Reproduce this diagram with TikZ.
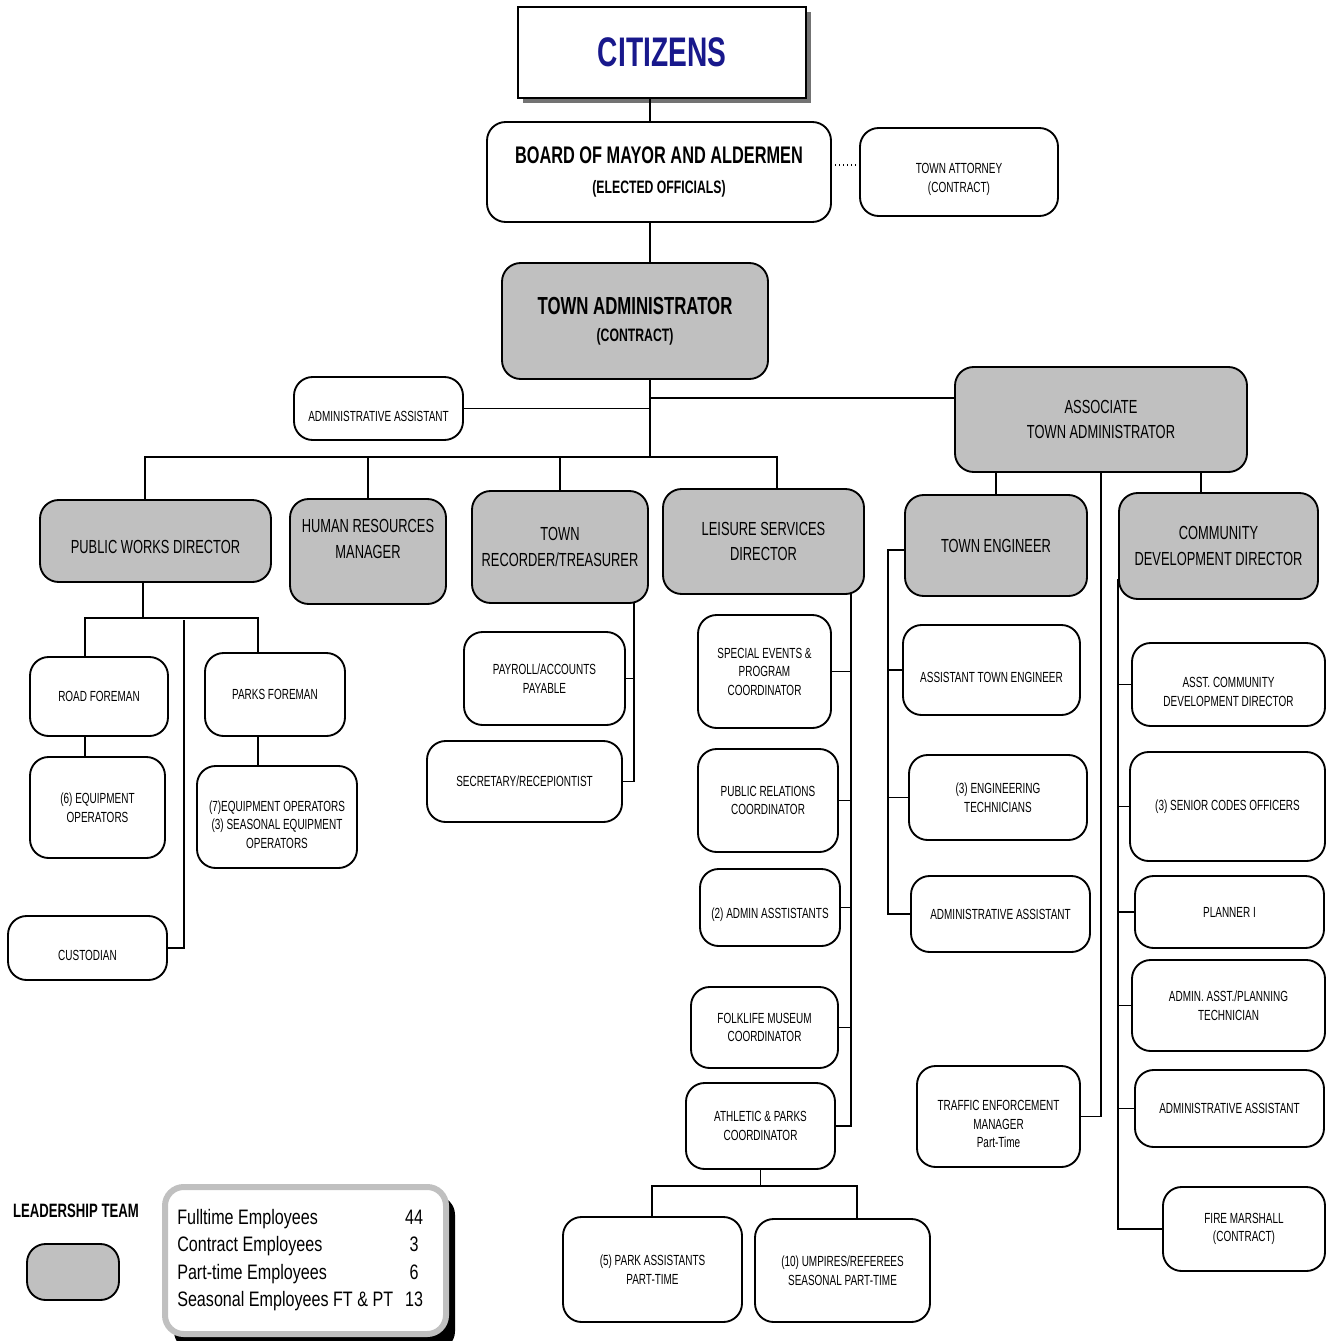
\documentclass[tikz,border=0pt]{standalone}
\usepackage{fontspec}
\setmainfont{Liberation Sans}[FakeStretch=0.68]
\newfontfamily\legendfont{Liberation Sans}[FakeStretch=0.77]

\definecolor{boxgray}{RGB}{192,192,192}
\definecolor{citizenblue}{RGB}{24,24,140}

\newcommand\txtS{\fontsize{11}{13.9}\selectfont}
\newcommand\txtG{\fontsize{14.2}{19.2}\selectfont}
\newcommand\padtop{\rule{0pt}{19pt}}

\tikzstyle{blockW} = [draw, fill=white, rounded corners=14pt, line width=1.4pt, inner sep=0pt, align=center, font=\txtS]
\tikzstyle{blockG} = [blockW, fill=boxgray, font=\txtG]
\tikzstyle{link} = [draw, line width=1.4pt]
\tikzset{boxsize/.style 2 args={minimum width=#1*0.75pt, minimum height=#2*0.75pt}}

\begin{document}
\begin{tikzpicture}[x=0.75pt, y=-0.75pt]
  \useasboundingbox (0,0) rectangle (1327,1341);

  % top of the chart
  \fill[black!55] (523,12) rectangle (811,103);
  \node[draw, fill=white, line width=1.6pt, inner sep=0pt, boxsize={288}{91}, text=citizenblue, font=\fontsize{31}{34}\selectfont\bfseries] (cit) at (662,52.5) {CITIZENS};
  \node[blockW, boxsize={344}{100}, font=\fontsize{18}{23}\selectfont\bfseries] (board) at (659,172) {BOARD OF MAYOR AND ALDERMEN\\{\fontsize{13.5}{16}\selectfont (ELECTED OFFICIALS)}};
  \node[blockW, boxsize={198}{88}] (tat) at (959,172) {\padtop TOWN ATTORNEY\\(CONTRACT)};
  \node[blockG, boxsize={266}{116}, font=\fontsize{18.5}{20}\selectfont\bfseries] (ta) at (635,321) {TOWN ADMINISTRATOR\\{\fontsize{13.5}{16}\selectfont (CONTRACT)}};
  \node[blockW, boxsize={169}{63}] (aa) at (378.5,408.5) {\padtop ADMINISTRATIVE ASSISTANT};
  \node[blockG, boxsize={292}{105}] (ata) at (1101,419.5) {ASSOCIATE\\TOWN ADMINISTRATOR};

  % department heads
  \node[blockG, boxsize={231}{82}] (pwd) at (155.5,541) {\mbox{}\\PUBLIC WORKS DIRECTOR};
  \node[blockG, boxsize={156}{105}] (hr) at (368,551.5) {HUMAN RESOURCES\\MANAGER\\\mbox{}};
  \node[blockG, boxsize={176}{112}] (tr) at (560,547) {TOWN\\RECORDER/TREASURER};
  \node[blockG, boxsize={201}{105}] (ls) at (763.5,541.5) {LEISURE SERVICES\\DIRECTOR};
  \node[blockG, boxsize={182}{101}] (te) at (996,545.5) {TOWN ENGINEER};
  \node[blockG, boxsize={199}{106}] (cdd) at (1218.5,546) {COMMUNITY\\DEVELOPMENT DIRECTOR};

  % public works
  \node[blockW, boxsize={138}{79}] (rf) at (99,696.5) {ROAD FOREMAN};
  \node[blockW, boxsize={135}{101}] (eq6) at (97.5,807.5) {(6) EQUIPMENT\\OPERATORS};
  \node[blockW, boxsize={140}{83}] (pf) at (275,694.5) {PARKS FOREMAN};
  \node[blockW, boxsize={160}{102}] (eq7) at (277,817) {\padtop(7)EQUIPMENT OPERATORS\\(3) SEASONAL EQUIPMENT\\OPERATORS};
  \node[blockW, boxsize={159}{64}] (cust) at (87.5,948) {\padtop CUSTODIAN};

  % recorder
  \node[blockW, boxsize={161}{93}] (pay) at (544.5,678.5) {PAYROLL/ACCOUNTS\\PAYABLE};
  \node[blockW, boxsize={195}{81}] (sec) at (524.5,781.5) {SECRETARY/RECEPIONTIST};

  % leisure services
  \node[blockW, boxsize={133}{113}] (sep) at (764.5,671.5) {SPECIAL EVENTS \&\\PROGRAM\\COORDINATOR};
  \node[blockW, boxsize={140}{103}] (prc) at (768,800.5) {PUBLIC RELATIONS\\COORDINATOR};
  \node[blockW, boxsize={140}{77}] (adm2) at (770,907.5) {\padtop(2) ADMIN ASSTISTANTS};
  \node[blockW, boxsize={147}{81}] (fmc) at (764.5,1027.5) {FOLKLIFE MUSEUM\\COORDINATOR};
  \node[blockW, boxsize={149}{86}] (apc) at (760.5,1126) {ATHLETIC \& PARKS\\COORDINATOR};
  \node[blockW, boxsize={179}{105}] (pka) at (652.5,1269.5) {(5) PARK ASSISTANTS\\PART-TIME};
  \node[blockW, boxsize={175}{103}] (ump) at (842.5,1270.5) {(10) UMPIRES/REFEREES\\SEASONAL PART-TIME};

  % town engineer
  \node[blockW, boxsize={177}{90}] (ate) at (991.5,670) {\padtop ASSISTANT TOWN ENGINEER};
  \node[blockW, boxsize={178}{85}] (etech) at (998,797.5) {(3) ENGINEERING\\TECHNICIANS};
  \node[blockW, boxsize={179}{76}] (adm3) at (1000.5,914) {ADMINISTRATIVE ASSISTANT};
  \node[blockW, boxsize={163}{101}] (tem) at (998.5,1116.5) {\padtop TRAFFIC ENFORCEMENT\\MANAGER\\Part-Time};

  % community development
  \node[blockW, boxsize={193}{83}] (acd) at (1228.5,684.5) {\padtop ASST. COMMUNITY\\DEVELOPMENT DIRECTOR};
  \node[blockW, boxsize={195}{109}] (sco) at (1227.5,806.5) {(3) SENIOR CODES OFFICERS};
  \node[blockW, boxsize={189}{72}] (pl1) at (1229.5,912) {PLANNER I};
  \node[blockW, boxsize={193}{91}] (aapt) at (1228.5,1005.5) {ADMIN. ASST./PLANNING\\TECHNICIAN};
  \node[blockW, boxsize={189}{77}] (aacd) at (1229.5,1108.5) {ADMINISTRATIVE ASSISTANT};
  \node[blockW, boxsize={162}{84}] (fm) at (1244,1229) {FIRE MARSHALL\\(CONTRACT)};

  % legend
  \node[font=\fontsize{14.5}{17}\selectfont\bfseries] (ltitle) at (76,1211) {LEADERSHIP TEAM};
  \node[blockG, boxsize={92}{56}] (lkey) at (73,1272) {};
  \fill[black, rounded corners=14pt] (174,1196) rectangle (455,1350);
  \node[draw=boxgray, fill=white, line width=4.5pt, rounded corners=14pt, inner sep=0pt, boxsize={281}{147}] (emp) at (305.5,1260.5) {};
  \node[anchor=west, inner sep=0pt, font=\legendfont\fontsize{15.7}{20.6}\selectfont] (emptxt) at (177,1260) {%
    \begin{tabular}{@{}l@{\hspace{9pt}}c@{}}
      Fulltime Employees & 44\\
      Contract Employees & 3\\
      Part-time Employees & 6\\
      Seasonal Employees FT \& PT & 13
    \end{tabular}};

  % connectors
  \coordinate (spine) at (650,457);
  \coordinate (atajoin) at (650,398);
  \coordinate (busL) at (145,457);
  \coordinate (busR) at (777,457);
  \coordinate (attjoin) at (831,165);
  \draw[link] (cit.south -| spine) -- (board.north -| spine);
  \draw[link] (board.south -| spine) -- (ta.north -| spine);
  \draw[link] (ta.south -| spine) -- (spine);
  \draw[link] (aa.east) -- (aa.east -| spine);
  \draw[link] (atajoin) -- (atajoin -| ata.west);
  \draw[dotted, line width=1pt] (attjoin) -- (attjoin -| tat.west);
  \draw[link] (busL |- pwd.north) -- (busL) -- (busR) -- (busR |- ls.north);
  \draw[link] (hr.north) -- (hr.north |- busL);
  \draw[link] (tr.north) -- (tr.north |- busL);

  \coordinate (pwjoin) at (143,618);
  \coordinate (pwL) at (85,618);
  \coordinate (pwR) at (258,618);
  \coordinate (custtop) at (184,620);
  \draw[link] (pwjoin |- pwd.south) -- (pwjoin);
  \draw[link] (pwL |- rf.north) -- (pwL) -- (pwR) -- (pwR |- pf.north);
  \draw[link] (pwL |- rf.south) -- (pwL |- eq6.north);
  \draw[link] (pwR |- pf.south) -- (pwR |- eq7.north);
  \draw[link] (custtop) |- (cust.east);

  \coordinate (trx) at (634,603);
  \draw[link] (trx) |- (sec.east);
  \draw[link] (pay.east) -- (pay.east -| trx);

  \coordinate (lsx) at (851,594);
  \draw[link] (lsx) |- (apc.east);
  \foreach \n in {sep, prc, adm2, fmc}
    \draw[link] (\n.east) -- (\n.east -| lsx);
  \coordinate (apL) at (652,1186);
  \coordinate (apR) at (857,1186);
  \draw[link] (apc.south) -- (apc.south |- apL);
  \draw[link] (apL |- pka.north) -- (apL) -- (apR) -- (apR |- ump.north);

  \coordinate (tejoin) at (1101,472);
  \coordinate (cdjoin) at (1201,472);
  \draw[link] (te.north) -- (te.north |- ata.south);
  \draw[link] (cdjoin) -- (cdjoin |- cdd.north);
  \draw[link] (tejoin) |- (tem.east);

  \coordinate (tex) at (888,550);
  \draw[link] (te.west |- tex) -- (tex) -- (tex |- adm3.west) -- (adm3.west);
  \foreach \n in {ate, etech}
    \draw[link] (\n.west) -- (\n.west -| tex);

  \coordinate (cdx) at (1118,579);
  \draw[link] (cdx) |- (fm.west);
  \foreach \n in {acd, sco, pl1, aapt, aacd}
    \draw[link] (\n.west) -- (\n.west -| cdx);
\end{tikzpicture}
\end{document}
